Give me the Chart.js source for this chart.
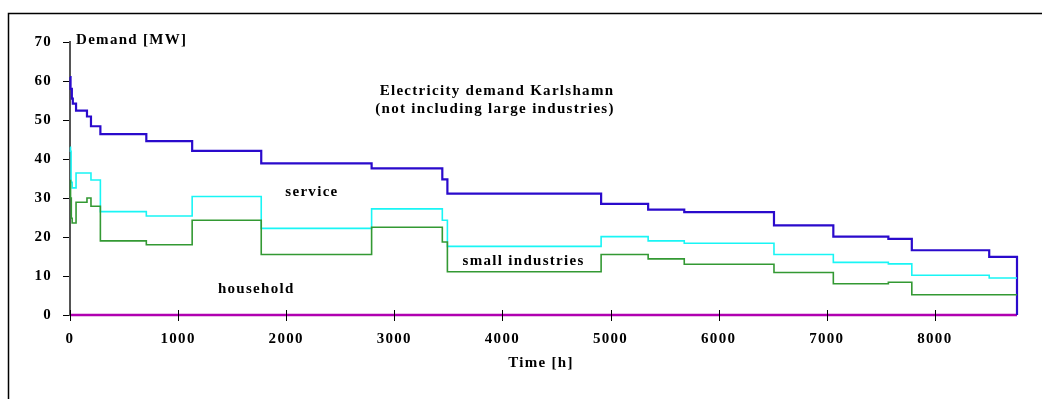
<!DOCTYPE html>
<html>
<head>
<meta charset="utf-8">
<title>Electricity demand Karlshamn</title>
<script src="https://cdn.jsdelivr.net/npm/chart.js@4/dist/chart.umd.min.js"></script>
<style>
  html, body { margin: 0; padding: 0; background: #fff; }
  #wrap { width: 1042px; height: 399px; position: relative; }
</style>
</head>
<body>
<div id="wrap"><canvas id="chart"></canvas></div>
<script>
// Load-duration steps: each value holds from its hour until the next listed hour.
// Curves are cumulative: household, + small industries, + service (total).
const totalHours = [0, 5, 17, 26, 56, 157, 194, 281, 706, 1130, 1769, 2790, 3444, 3491, 4913, 5348, 5682, 6512, 7061, 7570, 7787, 8503, 8760, 8760];
const totalMW    = [61.0, 58.0, 55.5, 54.2, 52.4, 50.9, 48.4, 46.4, 44.6, 42.1, 38.9, 37.6, 34.8, 31.1, 28.5, 27.0, 26.4, 23.0, 20.1, 19.5, 16.6, 14.9, 14.9, 0];

const smallIndHours = [0, 5, 10, 20, 56, 194, 281, 706, 1130, 1769, 2790, 3444, 3491, 4913, 5348, 5682, 6512, 7061, 7570, 7787, 8503, 8760];
const smallIndMW    = [43.0, 42.0, 34.0, 32.6, 36.4, 34.6, 26.5, 25.4, 30.4, 22.2, 27.2, 24.3, 17.6, 20.1, 19.0, 18.4, 15.5, 13.5, 13.1, 10.2, 9.5, 9.5];

const householdHours = [0, 5, 12, 20, 56, 157, 194, 281, 706, 1130, 1769, 2790, 3444, 3491, 4913, 5348, 5682, 6512, 7061, 7570, 7787, 8760];
const householdMW    = [34.5, 30.0, 24.8, 23.6, 28.9, 30.0, 27.9, 19.0, 18.0, 24.3, 15.5, 22.5, 18.7, 11.1, 15.5, 14.4, 13.0, 10.9, 8.0, 8.4, 5.2, 5.2];

const baseHours = [0, 8760];
const baseMW    = [0, 0];

const xTicks = [0, 1000, 2000, 3000, 4000, 5000, 6000, 7000, 8000];
const yTicks = [0, 10, 20, 30, 40, 50, 60, 70];

// In-plot labels, placed in data coordinates (hour, MW)
const areaLabels = [
  { text: 'service',          hour: 2238, mw: 30.5 },
  { text: 'small industries', hour: 4196, mw: 12.7 },
  { text: 'household',        hour: 1723, mw: 5.6 }
];

const FONT = 'Liberation Serif, Times New Roman, serif';
const SPACING = '1.3px';

function toPoints(hours, values) {
  return hours.map((h, i) => ({ x: h, y: values[i] }));
}

function stepLine(label, hours, values, color, width) {
  return {
    label,
    data: toPoints(hours, values),
    borderColor: color,
    backgroundColor: color,
    borderWidth: width,
    stepped: true,
    pointRadius: 0,
    fill: false,
    clip: false
  };
}

const frameAndText = {
  id: 'frameAndText',
  beforeDraw(chart) {
    chart.ctx.letterSpacing = SPACING;
  },
  afterDatasetsDraw(chart) {
    const { ctx, scales } = chart;
    const xs = scales.x, ys = scales.y;
    ctx.save();
    ctx.letterSpacing = SPACING;

    // tick marks crossing the time axis
    ctx.strokeStyle = '#000';
    ctx.lineWidth = 1;
    const yAxis = ys.getPixelForValue(0);
    xTicks.forEach(v => {
      const px = Math.round(xs.getPixelForValue(v)) + 0.5;
      ctx.beginPath();
      ctx.moveTo(px, yAxis - 5);
      ctx.lineTo(px, yAxis + 6);
      ctx.stroke();
    });

    ctx.fillStyle = '#000';
    ctx.font = 'bold 15px ' + FONT;
    ctx.textBaseline = 'alphabetic';

    ctx.textAlign = 'left';
    ctx.fillText('Demand [MW]', 76, 44);

    ctx.textAlign = 'center';
    ctx.fillText('Electricity demand Karlshamn', 497, 95);
    ctx.fillText('(not including large industries)', 495, 113);
    ctx.fillText('Time [h]', 541, 367);

    areaLabels.forEach(l => {
      ctx.fillText(l.text, xs.getPixelForValue(l.hour), ys.getPixelForValue(l.mw));
    });

    // outer frame
    ctx.strokeStyle = '#000';
    ctx.lineWidth = 1.5;
    ctx.beginPath();
    ctx.moveTo(8.5, 400);
    ctx.lineTo(8.5, 13.5);
    ctx.lineTo(1043, 13.5);
    ctx.stroke();
    ctx.restore();
  }
};

new Chart(document.getElementById('chart'), {
  type: 'line',
  data: {
    datasets: [
      stepLine('household', householdHours, householdMW, '#339933', 1.6),
      stepLine('household + small industries', smallIndHours, smallIndMW, '#19F5F5', 1.6),
      stepLine('total', totalHours, totalMW, '#2A0ACC', 2.2),
      stepLine('zero', baseHours, baseMW, '#B000B0', 2.5)
    ]
  },
  options: {
    responsive: true,
    maintainAspectRatio: false,
    animation: false,
    events: [],
    layout: { padding: { left: 0, right: 25, top: 42, bottom: 0 } },
    plugins: {
      legend: { display: false },
      title: { display: false },
      tooltip: { enabled: false }
    },
    scales: {
      x: {
        type: 'linear',
        min: 0,
        max: 8760,
        afterBuildTicks(scale) { scale.ticks = xTicks.map(v => ({ value: v })); },
        afterFit(scale) { scale.height = 84; },
        grid: { display: false, drawTicks: false },
        border: { display: false },
        ticks: {
          autoSkip: false,
          maxRotation: 0,
          padding: 15,
          color: '#000',
          font: { family: FONT, size: 15, weight: 'bold' },
          callback: v => String(v)
        }
      },
      y: {
        min: 0,
        max: 70,
        afterBuildTicks(scale) { scale.ticks = yTicks.map(v => ({ value: v })); },
        afterFit(scale) { scale.width = 70; },
        grid: { display: true, drawOnChartArea: false, drawTicks: true, tickLength: 7, color: '#000', lineWidth: 1 },
        border: { display: true, color: '#555', width: 2 },
        ticks: {
          padding: 11,
          color: '#000',
          font: { family: FONT, size: 15, weight: 'bold' },
          callback: v => String(v)
        }
      }
    }
  },
  plugins: [frameAndText]
});
</script>
</body>
</html>
